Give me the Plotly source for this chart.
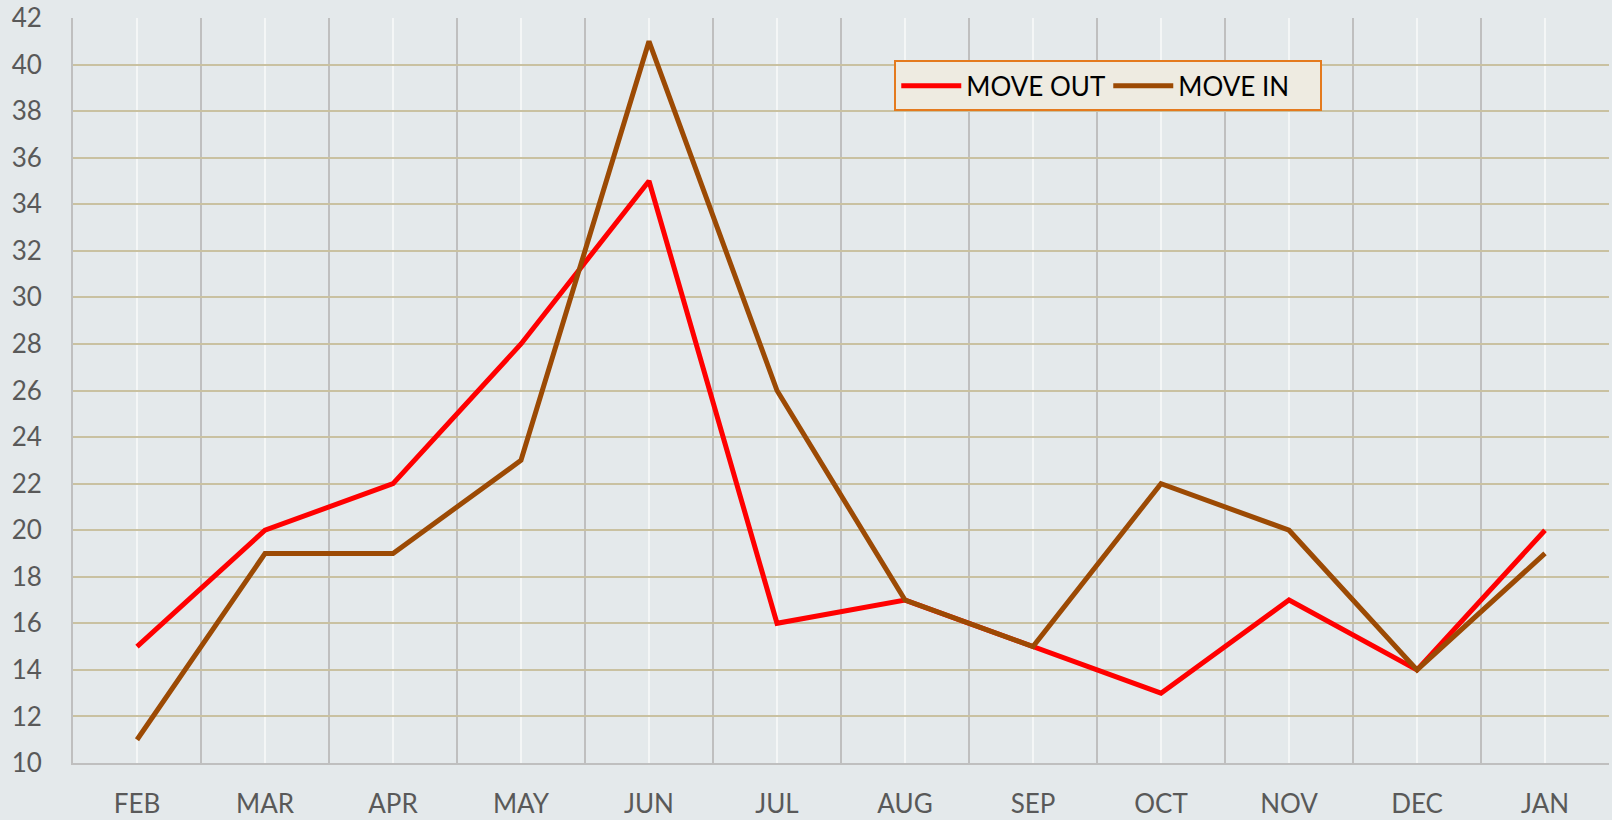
import plotly.graph_objects as go

months = ["FEB", "MAR", "APR", "MAY", "JUN", "JUL", "AUG", "SEP", "OCT", "NOV", "DEC", "JAN"]
move_out = [15, 20, 22, 28, 35, 16, 17, 15, 13, 17, 14, 20]
move_in = [11, 19, 19, 23, 41, 26, 17, 15, 22, 20, 14, 19]
y_ticks = list(range(10, 43, 2))

idx = list(range(len(months)))
bounds = [i - 0.5 for i in range(len(months) + 1)]

BG = "#E4E9EB"
FONT = "Lato, 'Open Sans', sans-serif"

fig = go.Figure()
fig.add_trace(go.Scatter(x=idx, y=move_out, mode="lines", name="MOVE OUT",
                         line=dict(color="#FF0000", width=5)))
fig.add_trace(go.Scatter(x=idx, y=move_in, mode="lines", name="MOVE IN",
                         line=dict(color="#9C4A04", width=5)))

fig.update_layout(
    width=1612, height=820,
    margin=dict(l=73, r=3, t=18, b=57, autoexpand=False),
    paper_bgcolor=BG, plot_bgcolor=BG,
    font=dict(family=FONT, size=26, color="#595959"),
    showlegend=True,
    legend=dict(orientation="h", x=0.674, y=0.909, xanchor="center", yanchor="middle",
                bgcolor="#EEEBE1", bordercolor="#E47A1E", borderwidth=2,
                font=dict(family=FONT, size=26, color="#000000"),
                itemwidth=60, entrywidth=137, entrywidthmode="pixels", tracegroupgap=0),
)
fig.update_xaxes(
    range=[-0.5, len(months) - 0.5], tickmode="array", tickvals=idx, ticktext=months,
    showgrid=True, gridcolor="#F4F6F6", gridwidth=2,
    minor=dict(tickmode="array", tickvals=bounds, showgrid=True, gridcolor="#BFBFBF", gridwidth=2),
    showline=True, linecolor="#BFBFBF", linewidth=2, zeroline=False, automargin=False,
    ticks="", ticklabelstandoff=17, tickfont=dict(size=26, color="#595959"),
)
fig.update_yaxes(
    range=[10, 42], tickmode="array", tickvals=y_ticks,
    showgrid=True, gridcolor="#C9C1A1", gridwidth=2,
    showline=True, linecolor="#BFBFBF", linewidth=2, zeroline=False, automargin=False,
    ticks="", ticklabelstandoff=24, tickfont=dict(size=26, color="#595959"),
)

fig.write_html("out.html", config={"displayModeBar": False},
               post_script="document.body.style.margin='0';document.body.style.overflow='hidden';")
